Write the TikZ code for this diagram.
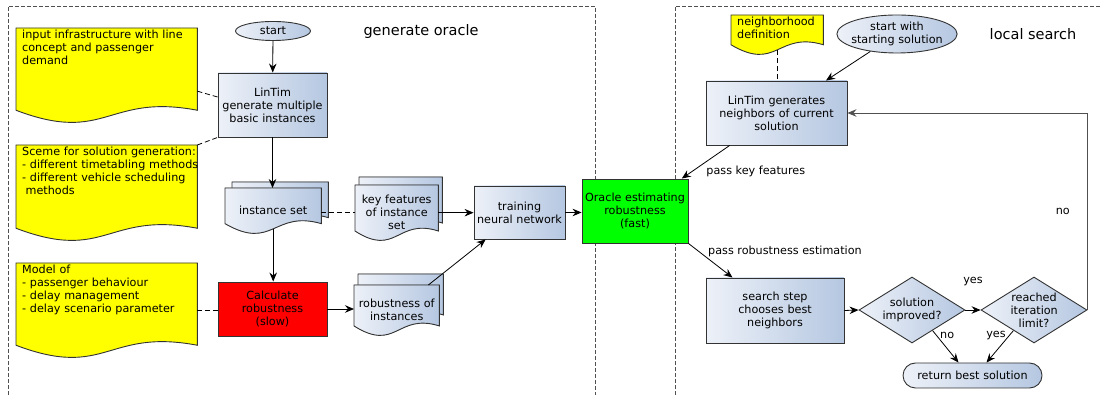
\documentclass[tikz,border=0pt]{standalone}
\usepackage{fontspec}
\setmainfont{DejaVu Sans}
\usepackage{tikz}
\usetikzlibrary{shapes,arrows.meta}

\definecolor{sheetlight}{RGB}{237,241,248}
\definecolor{sheetdark}{RGB}{181,199,225}
\definecolor{notefill}{RGB}{255,255,0}
\definecolor{edgegray}{RGB}{51,51,51}
\definecolor{framegray}{RGB}{80,80,80}

\tikzset{
  sheet/.style={draw=edgegray, line width=0.9pt, left color=sheetlight, right color=sheetdark},
  note/.style={draw=edgegray, line width=0.9pt, fill=notefill},
  sheetframe/.style={rectangle, draw=none, inner sep=0pt},
  notetext/.style={align=left, text width=190pt, inner xsep=6pt, inner ysep=1.5pt},
  stepbox/.style={rectangle, sheet, align=center, inner sep=0pt, text width=#1, minimum width=#1},
  runbox/.style={rectangle, draw=edgegray, line width=0.9pt, align=center, inner sep=0pt, text width=#1, minimum width=#1},
  decision/.style={diamond, sheet, align=center, inner sep=0pt, text width=#1, aspect=1.6, minimum width=106, minimum height=66},
  frame/.style={draw=framegray, line width=0.8pt, dash pattern=on 4pt off 2pt},
  link/.style={line width=0.8pt, dash pattern=on 5pt off 3pt},
  title/.style={font=\fontsize{14.5}{17}\selectfont}
}

% outline of a document sheet, #3 shifts the sheet
\newcommand{\wavesheet}[3]{([shift={#3}]#1.north west) -- ([shift={#3}]#1.north east)
  -- ([shift={#3},yshift=\wavea]#1.south east)
  .. controls ([shift={#3},shift={({-0.5*#2},{\wavea+0.5*\wavek})}]#1.south east)
  and ([shift={#3},shift={({0.5*#2},{\wavea-\wavek})}]#1.south west)
  .. ([shift={#3},yshift=\wavea]#1.south west) -- cycle}
\newcommand{\notedoc}[5]{%
  \pgfmathsetmacro\wavek{20+0.08*#3}\pgfmathsetmacro\wavea{0.352*\wavek}
  \node [sheetframe, anchor=north west, minimum width=#3, minimum height=#4] at (#1) (#2) {};
  \filldraw [note] \wavesheet{#2}{#3}{(0,0)};
  \node [notetext, anchor=north west] at (#2.north west) (#2-text) {#5};}
\newcommand{\stackdoc}[6]{%
  \pgfmathsetmacro\wavek{20+0.08*#3}\pgfmathsetmacro\wavea{0.352*\wavek}
  \node [sheetframe, anchor=north west, minimum width=#3, minimum height=#4] at (#1) (#2) {};
  \filldraw [sheet] \wavesheet{#2}{#3}{(#6)};
  \filldraw [sheet] \wavesheet{#2}{#3}{(0,0)};
  \node [align=center, text width=#3, inner sep=0pt] at (#2.center) (#2-text) {#5};}

\begin{document}
\begin{tikzpicture}[x=1pt, y=1pt, font=\fontsize{11.2}{13}\selectfont,
  >={Stealth[length=9pt, width=7.5pt, inset=3pt]}]
\useasboundingbox (0,0) rectangle (1100,395);

\draw [frame] (8,0) -- (8,389) -- (595,389) -- (595,0);
\draw [frame] (675,0) -- (675,389) -- (1100,389);
\node [title] at (421,363) (oracle-title) {generate oracle};
\node [title] at (1033,361) (search-title) {local search};

% generate oracle
\node [ellipse, sheet, inner sep=0pt, minimum width=75, minimum height=19] at (273,364) (start) {start};
\node [stepbox=109, minimum height=64] at (272.5,290) (lintim) {LinTim\\generate multiple\\basic instances};
\node [runbox=109, fill=red, minimum height=54] at (272.5,86) (calc) {Calculate\\robustness\\(slow)};
\node [stepbox=91, minimum height=53] at (519.5,182.5) (training) {training\\neural network};
\node [runbox=106, fill=green, minimum height=64] at (635,184) (oracle) {Oracle estimating\\robustness\\(fast)};

\notedoc {16,367} {infra} {181} {94} {input infrastructure with line\\concept and passenger\\demand};
\notedoc {16,250} {scheme} {181} {95} {Sceme for solution generation:\\- different timetabling methods\\- different vehicle scheduling\\\hspace*{3.5pt}methods};
\notedoc {16,132} {model} {181} {94} {Model of\\- passenger behaviour\\- delay management\\- delay scenario parameter};
\stackdoc {225,207} {instset} {96} {45} {instance set} {7,6};
\stackdoc {355,210} {keyfeat} {83} {55} {key features\\of instance\\set} {4,8};
\stackdoc {354,110} {robust} {85} {50} {robustness of\\instances} {4,11};

\draw [->, line width=0.8pt] (start) -- (lintim);
\draw [->, line width=0.8pt] (lintim.south) -- (lintim.south |- instset.north);
\draw [->, line width=0.8pt] ([yshift=4.5pt]instset.south) -- (instset.south |- calc.north);
\draw [->, line width=0.8pt] (calc.east) -- (calc.east -| robust.west);
\draw [->, line width=0.8pt] (robust) -- (training);
\draw [->, line width=0.8pt] (keyfeat.east) -- (keyfeat.east -| training.west);
\draw [->, line width=0.8pt] (training.east) -- (training.east -| oracle.west);
\draw [link] ([yshift=-16pt]infra.east) -- ([yshift=8pt]lintim.west);
\draw [link] (scheme.north east) -- (lintim.south west);
\draw [link] (model.east) -- (model.east -| calc.west);
\draw [link] (keyfeat.west -| instset.east) -- (keyfeat.west);

% local search
\node [ellipse, sheet, inner xsep=-3.5pt, inner ysep=1pt, text width=92, minimum width=120, minimum height=38, align=center] at (897,361) (startls) {start with\\starting solution};
\node [stepbox=141, minimum height=64] at (776.5,282) (lintimgen) {LinTim generates\\neighbors of current\\solution};
\node [stepbox=138, minimum height=65] at (775,84.5) (search) {search step\\chooses best\\neighbors};
\node [decision=60] at (912,85) (improved) {solution\\improved?};
\node [decision=47] at (1034,85) (limit) {reached\\iteration\\limit?};
\node [stepbox=139, rounded corners=12.5pt, minimum height=25] at (972.5,19.5) (best) {return best solution};
\notedoc {731,380} {neigh} {92} {39} {neighborhood\\definition};

\draw [link] ([yshift=4.5pt]neigh.south) -- (neigh.south |- lintimgen.north);
\draw [->, line width=0.8pt] (startls) -- (lintimgen);
\draw [->, line width=0.8pt] (lintimgen) -- node [pos=0.5, anchor=north west, xshift=-3pt] {pass key features} (oracle);
\draw [->, line width=0.8pt] (oracle.south east) -- node [pos=0.5, anchor=south west, xshift=-6pt] {pass robustness estimation} (search);
\draw [->, line width=0.8pt] (search.east) -- (improved.west);
\draw [->, line width=0.8pt] (improved) -- node [above=20pt] {yes} (limit);
\draw [->, line width=0.8pt] (improved.-45) -- node [pos=0.15, anchor=west] {no} ([xshift=-14pt]best.north);
\draw [->, line width=0.8pt] (limit.-135) -- node [pos=0.15, anchor=east] {yes} ([xshift=14pt]best.north);
\draw [->, line width=0.8pt, draw=framegray] (limit.east) |- node [pos=0.25, left=14pt] {no} (lintimgen.east);
\end{tikzpicture}
\end{document}
